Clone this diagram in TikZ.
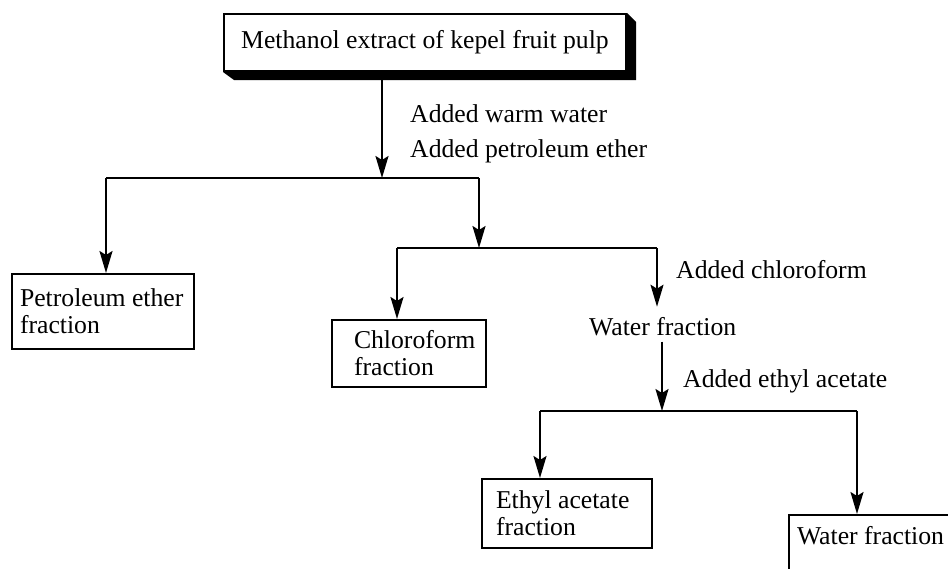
\documentclass[tikz,border=0pt]{standalone}
\usepackage{fontspec}
\setmainfont{Liberation Serif}
\usetikzlibrary{arrows.meta}
\tikzset{
  flow/.style={line width=2pt},
  flowarrow/.style={flow, -{Stealth[length=22pt,width=13pt,inset=4pt]}},
  fracbox/.style={draw, line width=2pt, align=flush left, anchor=north west, inner ysep=0pt},
  steplabel/.style={anchor=base west, inner sep=0pt}
}
\begin{document}
\begin{tikzpicture}[x=1pt,y=-1pt,font=\fontsize{25.7pt}{27pt}\selectfont]
  \useasboundingbox (0,0) rectangle (948,568);
  \clip (0,0) rectangle (948,568);
  %% start box with shadow
  \node[draw, fill=white, line width=2pt, minimum width=402pt, minimum height=57pt,
        anchor=north west, inner sep=0pt] (extract) at (223,13) {Methanol extract of kepel fruit pulp};
  \fill (extract.north east) -- ++(9,9) -- ++(0,58) -- ++(-402,0) -- (extract.south west) -- (extract.south east) -- cycle;
  %% fractions
  \node[fracbox, minimum width=182pt, minimum height=75pt, inner xsep=8pt, text width=166pt] (petro) at (11,273) {Petroleum ether\\fraction};
  \node[fracbox, minimum width=154pt, minimum height=67pt, inner xsep=22pt, text width=110pt] (chloro) at (331,319) {Chloroform\\fraction};
  \node[fracbox, minimum width=170pt, minimum height=69pt, inner xsep=14pt, text width=142pt] (ethyl) at (481,478) {Ethyl acetate\\fraction};
  \node[fracbox, inner xsep=8pt, inner ysep=11pt, text width=200pt, text depth=40pt] (water) at (788,514) {Water fraction};
  \node[anchor=base west, inner xsep=0pt, inner ysep=6pt] (watermid) at (589,335) {Water fraction};
  %% step labels
  \node[steplabel] (warm) at (410,122) {Added warm water};
  \node[steplabel] (petether) at (410,157) {Added petroleum ether};
  \node[steplabel] (chloroadd) at (676,278) {Added chloroform};
  \node[steplabel] (ethyladd) at (683,387) {Added ethyl acetate};
  %% junctions
  \coordinate (split1) at (382,178);
  \coordinate (left1) at (106,178);
  \coordinate (right1) at (479,178);
  \coordinate (split2) at (479,248);
  \coordinate (left2) at (397,248);
  \coordinate (right2) at (657,248);
  \coordinate (split3) at (662,411);
  \coordinate (left3) at (540,411);
  \coordinate (right3) at (857,411);
  %% connectors
  \draw[flowarrow] (extract.south -| split1) -- (split1);
  \draw[flow] (left1) -- (right1);
  \draw[flowarrow] (left1) -- (left1 |- petro.north);
  \draw[flowarrow] (right1) -- (split2);
  \draw[flow] (left2) -- (right2);
  \draw[flowarrow] (left2) -- (left2 |- chloro.north);
  \draw[flowarrow] (right2) -- ([yshift=4pt]right2 |- watermid.north);
  \draw[flowarrow] (watermid.south -| split3) -- (split3);
  \draw[flow] (left3) -- (right3);
  \draw[flowarrow] (left3) -- (left3 |- ethyl.north);
  \draw[flowarrow] (right3) -- (right3 |- water.north);
\end{tikzpicture}
\end{document}
